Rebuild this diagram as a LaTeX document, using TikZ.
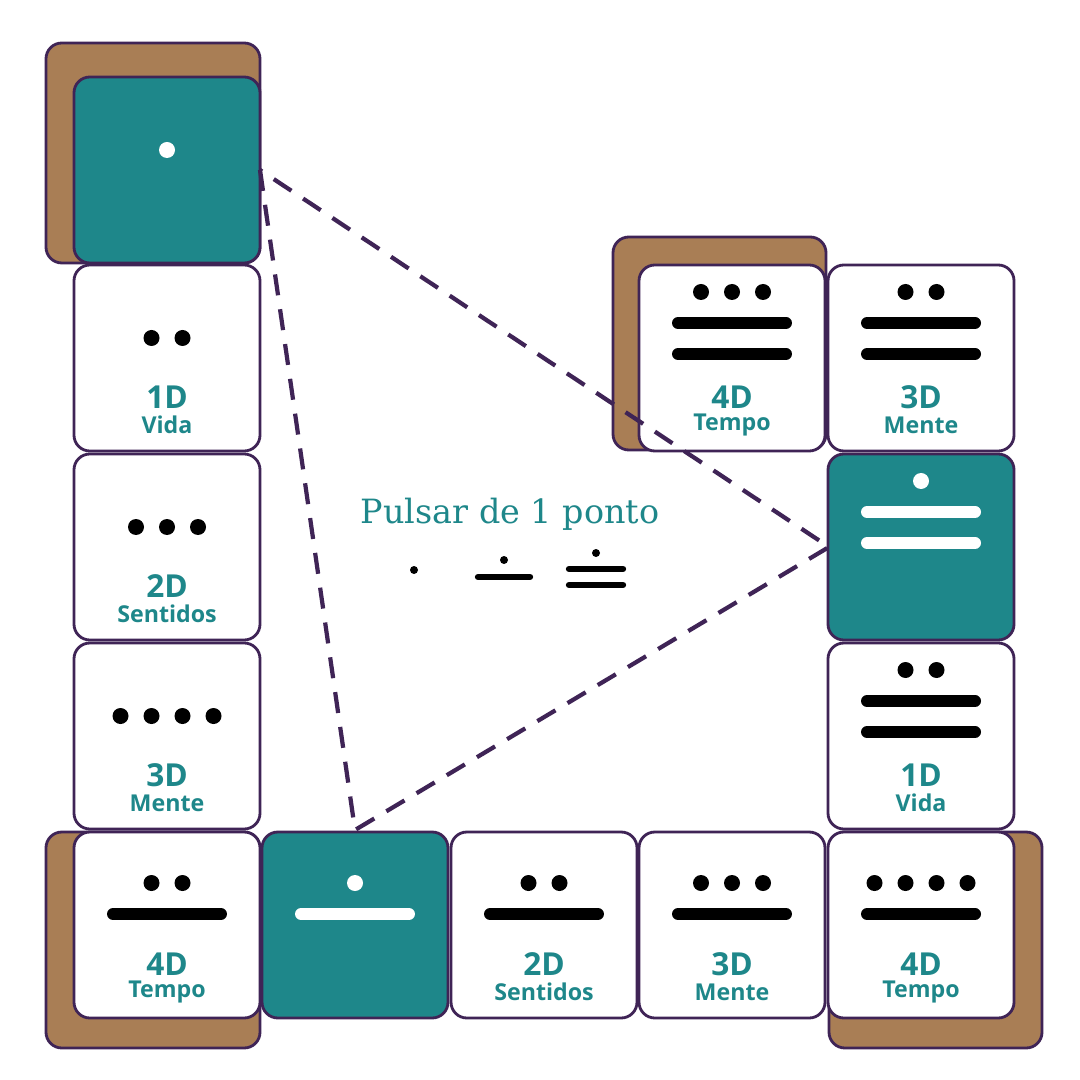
\documentclass[tikz,border=0pt]{standalone}
\usepackage{fontspec}
\setmainfont{Open Sans}
\newfontfamily\titlefont{DejaVu Serif}
\definecolor{tealc}{HTML}{1E878A}
\definecolor{plum}{HTML}{3F2456}
\definecolor{brownc}{HTML}{A97E55}
\tikzset{
    tile/.style={draw=plum,line width=0.8pt,rounded corners=4.5pt,fill=white},
    darktile/.style={tile,fill=tealc},
    backing/.style={draw=plum,line width=0.8pt,rounded corners=4.5pt,fill=brownc},
    bar/.style={line width=3.4pt,line cap=round},
    link/.style={draw=plum,line width=1.2pt,dash pattern=on 6pt off 4pt},
}
% #1 name, #2 x, #3 y, #4 style, #5 dots, #6 bars, #7 number, #8 label, #9 ink
\newcommand\Tile[9]{%
    \draw[#4] (#2-93,#3-93) rectangle (#2+93,#3+93);
    \coordinate (#1) at (#2,#3);
    \ifnum#6=0 \def\dy{-20}\fi
    \ifnum#6=1 \def\dy{-42}\draw[bar,#9] (#2-54,#3-11) -- (#2+54,#3-11);\fi
    \ifnum#6=2 \def\dy{-66}\draw[bar,#9] (#2-54,#3-35) -- (#2+54,#3-35);
        \draw[bar,#9] (#2-54,#3-4) -- (#2+54,#3-4);\fi
    \foreach \k in {1,...,#5}
        \fill[#9] ({#2+(\k-(#5+1)/2)*31},#3+\dy) circle (8);
    \node[text=\ifx#9white white\else tealc\fi,font=\bfseries\fontsize{9}{9}\selectfont] at (#2,#3+39) {#7};
    \node[text=\ifx#9white white\else tealc\fi,font=\bfseries\fontsize{6.6}{7}\selectfont] at (#2,#3+67) {#8};
}
\begin{document}
\begin{tikzpicture}[x=0.01cm,y=-0.01cm]
    \fill[white] (0,0) rectangle (1080,1080);
    % brown backings
    \draw[backing] (46,43) rectangle (260,263);
    \draw[backing] (46,832) rectangle (260,1048);
    \draw[backing] (829,832) rectangle (1042,1048);
    \draw[backing] (613,237) rectangle (826,450);
    % left column
    \Tile{tA}{167}{170}{darktile}{1}{0}{4D}{Tempo}{white}
    \Tile{tB}{167}{358}{tile}{2}{0}{1D}{Vida}{black}
    \Tile{tC}{167}{547}{tile}{3}{0}{2D}{Sentidos}{black}
    \Tile{tD}{167}{736}{tile}{4}{0}{3D}{Mente}{black}
    % bottom row
    \Tile{bA}{167}{925}{tile}{0}{1}{4D}{Tempo}{black}
    \Tile{bB}{355}{925}{darktile}{1}{1}{1D}{Vida}{white}
    \Tile{bC}{544}{925}{tile}{2}{1}{2D}{Sentidos}{black}
    \Tile{bD}{732}{925}{tile}{3}{1}{3D}{Mente}{black}
    \Tile{bE}{921}{925}{tile}{4}{1}{4D}{Tempo}{black}
    % right column
    \Tile{rA}{921}{736}{tile}{0}{2}{1D}{Vida}{black}
    \Tile{rB}{921}{547}{darktile}{1}{2}{2D}{Sentidos}{white}
    \Tile{rC}{921}{358}{tile}{2}{2}{3D}{Mente}{black}
    \Tile{rD}{732}{358}{tile}{3}{2}{4D}{Tempo}{black}
    % triangle
    \coordinate (pA) at (260,170);
    \coordinate (pB) at (355,830);
    \coordinate (pC) at (829,547);
    \draw[link] (pA) -- (pB) -- (pC) -- cycle;
    % legend
    \node[text=tealc,font=\titlefont\fontsize{9.5}{10}\selectfont] (title) at (510,514) {Pulsar de 1 ponto};
    \fill (414,570) circle (4);
    \fill (504,560) circle (4);
    \draw[line width=1.8pt,line cap=round] (478,577) -- (530,577);
    \fill (596,553) circle (4);
    \draw[line width=1.8pt,line cap=round] (569,569) -- (623,569);
    \draw[line width=1.8pt,line cap=round] (569,585) -- (623,585);
\end{tikzpicture}
\end{document}
